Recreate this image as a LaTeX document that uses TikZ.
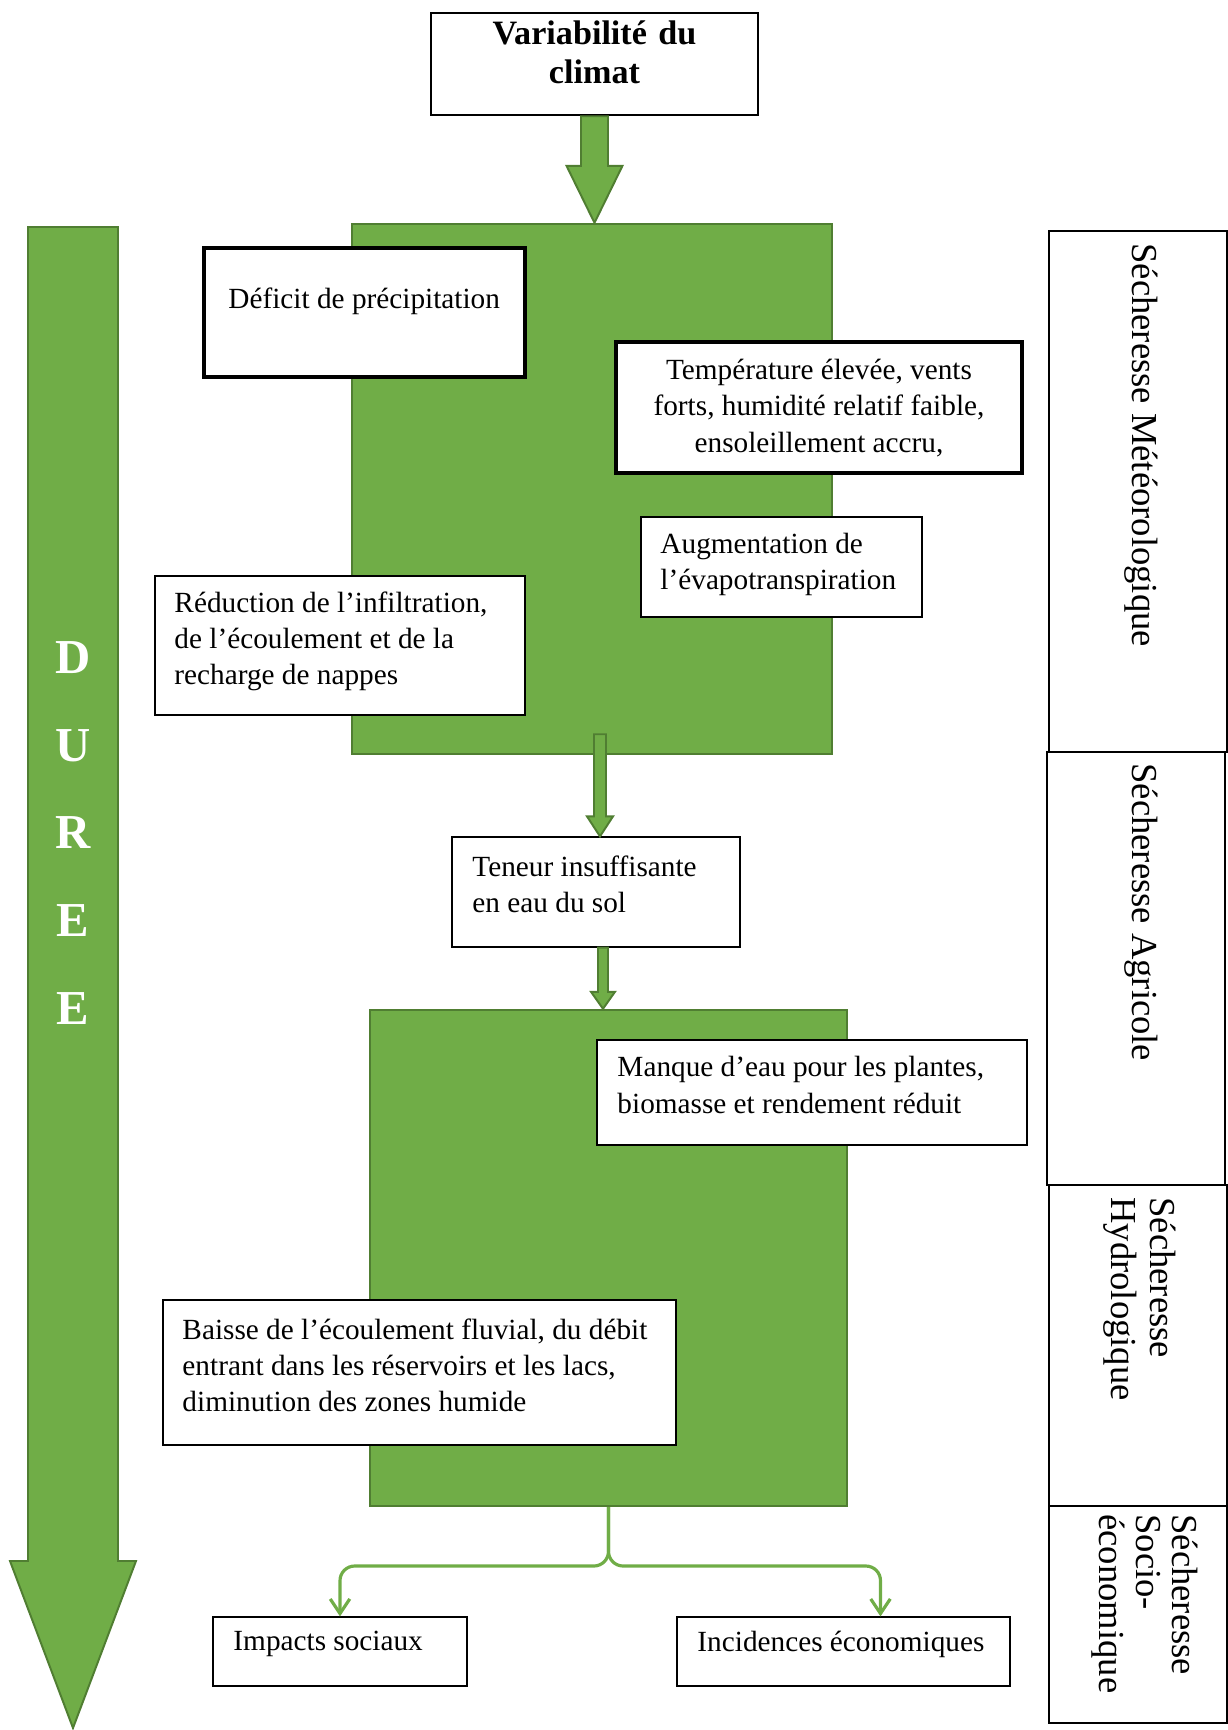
\documentclass[tikz,border=0pt]{standalone}
\usepackage{fontspec}
\setmainfont{Liberation Serif}
\usetikzlibrary{arrows.meta, calc, fit}

\definecolor{leaf}{HTML}{70AD47}
\definecolor{leafdark}{HTML}{507E32}

\tikzset{
  box/.style={draw=black, line width=0.5pt, fill=white, inner sep=0pt},
  thickbox/.style={box, line width=1.5pt},
  titlebox/.style={box, line width=1pt},
  zone/.style={draw=leafdark, line width=1pt, fill=leaf, inner sep=0pt},
  txt/.style={font=\fontsize{12}{14.8}\selectfont, align=left, inner sep=0pt, anchor=west},
  phase/.style={font=\fontsize{15}{16}\selectfont, align=left, rotate=-90, anchor=west, inner sep=0pt},
  blockarrow/.style={draw=leafdark, line width=0.8pt, fill=leaf},
  link/.style={draw=leaf, line width=1.3pt, rounded corners=6pt,
    -{Straight Barb[length=6pt, width=8pt, line width=1.3pt]}},
}

% fat green arrow: start, target, half shaft, half head, head length
\newcommand{\fatarrow}[5]{%
  \coordinate (tip) at (#1 |- #2);
  \filldraw[blockarrow] ($(#1)+(-#3,0)$) -- ($(tip)+(-#3,-#5)$) -- ($(tip)+(-#4,-#5)$) -- (tip)
    -- ($(tip)+(#4,-#5)$) -- ($(tip)+(#3,-#5)$) -- ($(#1)+(#3,0)$) -- cycle;}

\begin{document}
\begin{tikzpicture}[x=0.41pt, y=-0.41pt]
  \useasboundingbox (0,0) rectangle (1228,1730);

  % duree
  \filldraw[blockarrow] (28,227) -- (118,227) -- (118,1561) -- (136,1561) -- (73,1728)
    -- (10,1561) -- (28,1561) -- cycle;
  \node[font=\bfseries\fontsize{20}{36}\selectfont, text=white, align=center] (duree) at (73,833) {D\\U\\R\\E\\E};

  % green zones
  \node[zone, fit={(352,224) (832,754)}] (zone1) {};
  \node[zone, fit={(370,1010) (847,1506)}] (zone2) {};

  % title
  \node[titlebox, fit={(431,13) (758,115)}, font=\bfseries\fontsize{14}{16}\selectfont, align=center] (title) {Variabilité du\\climat};

  % meteorological stage
  \node[thickbox, fit={(204,248) (525,377)}] (deficit) {};
  \node[txt] (deficit-t) at (228,301) {Déficit de précipitation};

  \node[thickbox, fit={(616,342) (1022,473)}] (temp) {};
  \node[txt, align=center, anchor=center] (temp-t) at (819,408) {Température élevée, vents\\forts, humidité relatif faible,\\ensoleillement accru,};

  \node[box, fit={(641,517) (922,617)}] (evapo) {};
  \node[txt] (evapo-t) at (660,564) {Augmentation de\\l’évapotranspiration};

  \node[box, fit={(155,576) (525,715)}] (infil) {};
  \node[txt] (infil-t) at (174,641) {Réduction de l’infiltration,\\de l’écoulement et de la\\recharge de nappes};

  % agricultural / hydrological stage
  \node[box, fit={(452,837) (740,947)}] (sol) {};
  \node[txt] (sol-t) at (472,884) {Teneur insuffisante\\en eau du sol};

  \node[box, fit={(597,1040) (1027,1145)}] (plantes) {};
  \node[txt] (plantes-t) at (617,1085) {Manque d’eau pour les plantes,\\biomasse et rendement réduit};

  \node[box, fit={(163,1300) (676,1445)}] (fluvial) {};
  \node[txt] (fluvial-t) at (182,1365) {Baisse de l’écoulement fluvial, du débit\\entrant dans les réservoirs et les lacs,\\diminution des zones humide};

  % socio-economic stage
  \node[box, fit={(213,1617) (467,1686)}] (social) {};
  \node[txt] (social-t) at (233,1644) {Impacts sociaux};

  \node[box, fit={(677,1617) (1010,1686)}] (eco) {};
  \node[txt] (eco-t) at (697,1644) {Incidences économiques};

  % right column
  \node[box, fit={(1049,231) (1227,752)}] (meteo) {};
  \node[phase] (meteo-t) at (1141,243) {Sécheresse Météorologique};
  \node[box, fit={(1047,752) (1225,1185)}] (agri) {};
  \node[phase] (agri-t) at (1141,763) {Sécheresse Agricole};
  \node[box, fit={(1049,1185) (1227,1506)}] (hydro) {};
  \node[phase] (hydro-t) at (1140,1197) {Sécheresse\\Hydrologique};
  \node[box, fit={(1049,1506) (1227,1723)}] (socio) {};
  \node[phase, font=\fontsize{15}{15}\selectfont] (socio-t) at (1145,1514) {Sécheresse\\Socio-\\économique};

  % fat arrows
  \coordinate (a1) at (title.south);
  \fatarrow{a1}{zone1.north}{13.5}{28}{57}
  \coordinate (a2) at ([shift={(8,-21)}]zone1.south);
  \fatarrow{a2}{sol.north}{6}{13}{20}
  \coordinate (a3) at ([shift={(7,0)}]sol.south);
  \fatarrow{a3}{zone2.north}{5}{12}{17}

  % fork to impacts
  \coordinate (fork) at (zone2.south |- 0,1566);
  \draw[link] (zone2.south) -- (fork) -| (social.north);
  \draw[link] (zone2.south) -- (fork) -| ([shift={(37,0)}]eco.north);
\end{tikzpicture}
\end{document}
